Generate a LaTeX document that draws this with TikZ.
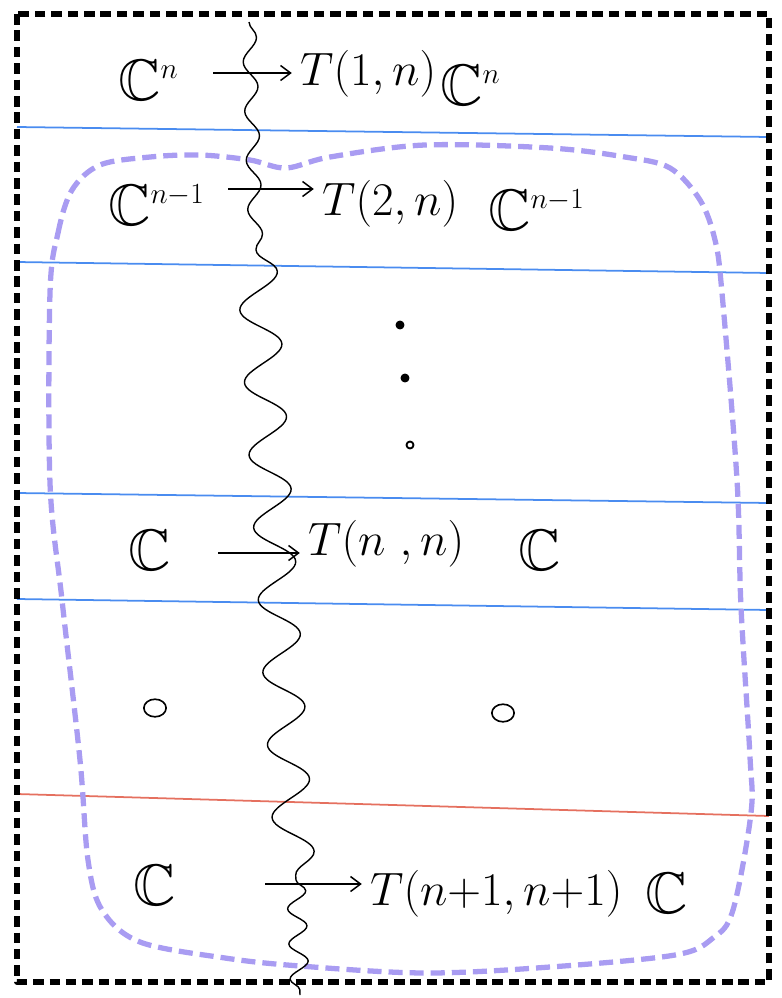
\RequirePackage{fix-cm}
\documentclass[tikz,border=0pt]{standalone}
\usepackage{amsmath,amssymb}
\usepackage{xcolor}
\usepackage{tikz}
\usetikzlibrary{arrows.meta,calc,decorations.pathmorphing,shapes.geometric}

\definecolor{sheetblue}{HTML}{4A8CF0}
\definecolor{sheetred}{HTML}{E5705F}
\definecolor{blobviolet}{HTML}{A99CF2}

\tikzset{
  space/.style={anchor=base west,inner sep=0pt,font=\fontsize{50}{52}\selectfont},
  mapname/.style={anchor=base west,inner sep=0pt,font=\fontsize{40}{42}\selectfont},
  maparrow/.style={line width=1.3pt,-{Straight Barb[length=3mm,width=4.5mm]},shorten >=7pt},
  zeroball/.style={draw,ellipse,line width=1.4pt,minimum width=19pt,minimum height=15pt,inner sep=0pt},
  dotmark/.style={draw,circle,line width=1.6pt,minimum size=6pt,inner sep=0pt},
  sheet/.style={line width=1.5pt},
  wiggle/.style 2 args={line width=1.2pt,decorate,decoration={snake,amplitude=#1,segment length=#2}},
  blob/.style={blobviolet,line width=4.5pt,dash pattern=on 12pt off 6pt,line cap=butt},
}
\newcommand{\dimup}[1]{^{\scriptscriptstyle #1}}

\begin{document}
\begin{tikzpicture}[x=0.03cm, y=-0.03cm, line join=round]
  \useasboundingbox (0,0) rectangle (782,998);

  % level lines
  \draw[sheet,sheetblue] (17,127) -- (769,137);
  \draw[sheet,sheetblue] (17,262) -- (769,273);
  \draw[sheet,sheetblue] (17,493) -- (769,503);
  \draw[sheet,sheetblue] (17,599) -- (769,610);
  \draw[sheet,sheetred] (17,794) -- (769,816);

  % frame
  \draw[line width=4.8pt,dash pattern=on 9pt off 5pt] (17,14) rectangle (769,982);

  % region
  \draw[blob] plot[smooth cycle,tension=0.55] coordinates {
    (50,293) (58,233) (72,190) (100,165) (150,157) (200,155) (250,160) (286,168)
    (330,157) (425,145) (550,148) (625,157) (670,168) (700,200) (715,240)
    (722,293) (737,480) (741,607) (750,757) (751,813) (733,910) (713,938)
    (675,955) (550,967) (425,973) (300,966) (225,958) (140,942) (102,910)
    (88,860) (80,760) (62,600) (50,483)};

  % wavy cut
  \coordinate (W0) at (249,22);
  \coordinate (W1) at (256,250);
  \coordinate (W2) at (296,880);
  \coordinate (W3) at (300,995);
  \draw[wiggle={6pt}{42pt}] (W0) -- (W1);
  \draw[wiggle={17pt}{62pt}] (W1) -- (W2);
  \draw[wiggle={8pt}{30pt}] (W2) -- (W3);

  % spaces
  \node[space] (Cl1) at (118,100) {$\mathbb{C}\dimup{n}$};
  \node[space] (Cr1) at (440,105) {$\mathbb{C}\dimup{n}$};
  \node[space] (Cl2) at (108,225) {$\mathbb{C}\dimup{n{-}1}$};
  \node[space] (Cr2) at (488,230) {$\mathbb{C}\dimup{n{-}1}$};
  \node[space] (Cl3) at (128,570) {$\mathbb{C}$};
  \node[space] (Cr3) at (518,570) {$\mathbb{C}$};
  \node[zeroball] (Ol4) at (155,708) {};
  \node[zeroball] (Or4) at (503,713) {};
  \node[space] (Cl5) at (133,905) {$\mathbb{C}$};
  \node[space] (Cr5) at (645,913) {$\mathbb{C}$};

  % vertical dots
  \node[dotmark,fill] (D1) at (400,325) {};
  \node[dotmark,fill] (D2) at (405,378) {};
  \node[dotmark] (D3) at (410,445) {};

  % maps
  \node[mapname] (T1) at (300,85) {$T(1,n)$};
  \node[mapname] (T2) at (322,215) {$T(2,n)$};
  \node[mapname] (T3) at (308,555) {$T(n\ ,n)$};
  \node[mapname] (T5) at (370,905) {$T(n{+}1,n{+}1)$};

  \coordinate (S1) at (213,73);
  \coordinate (S2) at (228,189);
  \coordinate (S3) at (218,553);
  \coordinate (S5) at (265,884);
  \draw[maparrow] (S1) -- (S1 -| T1.west);
  \draw[maparrow] (S2) -- (S2 -| T2.west);
  \draw[maparrow] (S3) -- (S3 -| T3.west);
  \draw[maparrow] (S5) -- (S5 -| T5.west);
\end{tikzpicture}
\end{document}
